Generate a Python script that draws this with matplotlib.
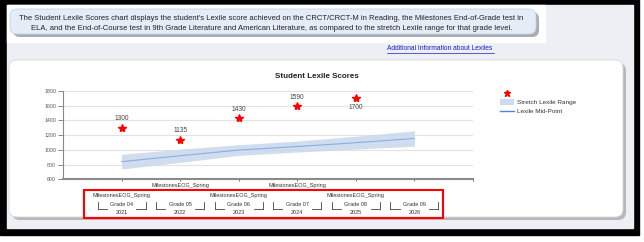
import numpy as np
import matplotlib
matplotlib.use('Agg')
import matplotlib.pyplot as plt
from matplotlib.patches import Rectangle, FancyBboxPatch
from matplotlib.transforms import blended_transform_factory

plt.rcParams['font.family'] = ['Liberation Sans', 'DejaVu Sans']

## Chart data
grades = ['Grade 04', 'Grade 05', 'Grade 06', 'Grade 07', 'Grade 08', 'Grade 09']
years = ['2021', '2022', '2023', '2024', '2025', '2026']
tests = ['MilestonesEOG_Spring'] * 5 + ['']
scores = [1300, 1135, 1430, 1590, 1700]
stretch_low = [740, 830, 925, 970, 1010, 1050]
stretch_high = [940, 1010, 1070, 1120, 1185, 1260]
mid_point = [840, 920, 997.5, 1045, 1097.5, 1155]
yticks = [600, 800, 1000, 1200, 1400, 1600, 1800]

W, H = 644, 242
fig = plt.figure(figsize=(W / 100, H / 100), dpi=100)
fig.patch.set_facecolor('white')

# background layer in pixel coordinates
bg = fig.add_axes([0, 0, 1, 1])
bg.set_xlim(0, W)
bg.set_ylim(H, 0)
bg.axis('off')

bg.add_patch(Rectangle((0, 0), 639, 235, color='black'))
bg.add_patch(Rectangle((7, 5), 626, 223, color='#eceff3'))
bg.add_patch(Rectangle((7, 5), 538, 37, color='white'))

# description banner
bg.add_patch(FancyBboxPatch((13, 12), 526, 25, boxstyle='round,pad=0,rounding_size=7',
                            fc='#a9acb2', ec='none'))
bg.add_patch(FancyBboxPatch((10, 9), 526, 25, boxstyle='round,pad=0,rounding_size=7',
                            fc='#e4ecf8', ec='#c8d3e3', lw=0.6))
bg.text(271, 18, "The Student Lexile Scores chart displays the student's Lexile score achieved on the "
        "CRCT/CRCT-M in Reading, the Milestones End-of-Grade test in",
        fontsize=5.5, ha='center', va='center', color='#222222')
bg.text(272, 28, "ELA, and the End-of-Course test in 9th Grade Literature and American Literature, "
        "as compared to the stretch Lexile range for that grade level.",
        fontsize=5.5, ha='center', va='center', color='#222222')

# link
bg.text(440, 49, 'Additional Information about Lexiles', fontsize=4.8, ha='center',
        va='center', color='#1c1cc8')
bg.plot([387, 494], [52.5, 52.5], color='#1c1cc8', lw=0.5)

# white chart panel
bg.add_patch(FancyBboxPatch((12, 63), 614, 157, boxstyle='round,pad=0,rounding_size=8',
                            fc='#b8b8b8', ec='none'))
bg.add_patch(FancyBboxPatch((9, 60), 614, 157, boxstyle='round,pad=0,rounding_size=8',
                            fc='white', ec='#d8d8d8', lw=0.6))
bg.text(317, 76, 'Student Lexile Scores', fontsize=5.8, fontweight='bold', ha='center',
        va='center', color='#222222')

# legend (drawn by hand to match the page)
bg.plot([507], [93], marker='*', color='red', ms=4.5, mec='red', ls='none')
bg.add_patch(Rectangle((500, 99), 14, 6, fc='#cddbee', ec='none'))
bg.plot([500, 514], [111, 111], color='#4a86e8', lw=1.0)
bg.text(517, 102.5, 'Stretch Lexile Range', fontsize=4.6, va='center', color='#333333')
bg.text(517, 111.5, 'Lexile Mid-Point', fontsize=4.6, va='center', color='#333333')

# red highlight box around the x labels
bg.add_patch(Rectangle((84, 190), 359, 27.5, fill=False, ec='red', lw=1.5))

# chart axes
ax_left, ax_right, ax_top, ax_bottom = 63, 473, 91, 179.3
ax = fig.add_axes([ax_left / W, 1 - ax_bottom / H, (ax_right - ax_left) / W,
                   (ax_bottom - ax_top) / H])
ax.set_facecolor('none')
x = np.arange(1, len(grades) + 1)

ax.fill_between(x, stretch_low, stretch_high, color='#c9d8ec', alpha=0.85, lw=0, zorder=2)
ax.plot(x, mid_point, color='#86aee6', lw=0.8, zorder=3)
xs = x[:len(scores)]
ax.plot(xs, scores, marker='*', ls='none', color='red', ms=6, zorder=4)
for xi, s in zip(xs, scores):
    if s > 1650:
        ax.annotate(str(s), (xi, s), xytext=(0, -6.5), textcoords='offset points',
                    ha='center', va='center', fontsize=4.8, color='#444444')
    else:
        ax.annotate(str(s), (xi, s), xytext=(0, 6.5), textcoords='offset points',
                    ha='center', va='center', fontsize=4.8, color='#444444')

ax.set_xlim(0, 7)
ax.set_ylim(600, 1800)
ax.set_yticks(yticks)
ax.set_yticklabels([str(v) for v in yticks])
ax.tick_params(axis='y', length=3.5, width=0.6, color='#777777', labelsize=3.8,
               labelcolor='#555555', pad=1.5)
ax.set_xticks(np.arange(1, 8))
ax.set_xticklabels([])
ax.tick_params(axis='x', length=1.5, width=0.6, color='#555555')
for v in yticks[1:]:
    ax.axhline(v, color='#e2e2e2', lw=0.8, zorder=1)
for side in ['top', 'right']:
    ax.spines[side].set_visible(False)
ax.spines['left'].set_color('#888888')
ax.spines['left'].set_linewidth(0.8)
ax.spines['bottom'].set_color('#8a8a8a')
ax.spines['bottom'].set_linewidth(1.5)

# category labels: x from the chart scale, y in page pixels
tr = blended_transform_factory(ax.transData, bg.transData)
half = 24 / ((ax_right - ax_left) / 7)
for i, xi in enumerate(x):
    if tests[i]:
        ty = 186 if i % 2 == 1 else 195.5
        ax.text(xi, ty, tests[i], transform=tr, ha='center', va='center',
                fontsize=4.0, color='#333333', clip_on=False)
    ax.text(xi, 205, grades[i], transform=tr, ha='center', va='center',
            fontsize=4.0, color='#333333', clip_on=False)
    ax.text(xi, 212, years[i], transform=tr, ha='center', va='center',
            fontsize=4.0, color='#333333', clip_on=False)
    for sgn in (-1, 1):
        ax.plot([xi + sgn * half, xi + sgn * half], [202, 209], transform=tr,
                color='#444444', lw=0.6, clip_on=False)
        ax.plot([xi + sgn * half, xi + sgn * half * 0.62], [209, 209], transform=tr,
                color='#444444', lw=0.6, clip_on=False)

fig.savefig('out.png', dpi=100)
